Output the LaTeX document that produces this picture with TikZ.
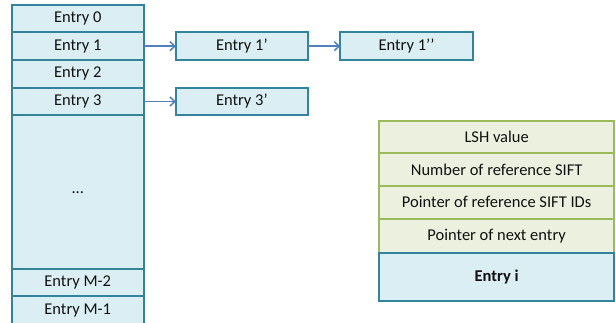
\documentclass[tikz,border=0pt]{standalone}
\usepackage{fontspec}
\setmainfont{Carlito}
\usetikzlibrary{arrows.meta}
\definecolor{bfill}{HTML}{DAEEF3}
\definecolor{bdraw}{HTML}{31849B}
\definecolor{gfill}{HTML}{EBF1DE}
\definecolor{gdraw}{HTML}{9BBB59}
\definecolor{arr}{HTML}{4F81BD}
\definecolor{txt}{HTML}{111111}
\begin{document}
\begin{tikzpicture}[x=1pt,y=-1pt,
  every node/.style={font=\fontsize{16.5}{19}\selectfont, text=txt, inner sep=0pt, outer sep=0pt},
  bluecell/.style={draw=bdraw, fill=bfill, line width=2pt, rectangle, minimum width=131.5pt},
  greencell/.style={draw=gdraw, fill=gfill, line width=2pt, rectangle, minimum width=235.3pt},
  link/.style={draw=arr, line width=1.5pt, -{Straight Barb[length=5pt,width=9pt,line width=1.5pt]}}]
\useasboundingbox (0,0) rectangle (616,322);
\clip (0,0) rectangle (616,322);
% left column
\node[bluecell, minimum height=27.6pt] (e0) at (77.75,18.5) {Entry 0};
\node[bluecell, minimum height=27.7pt] (e1) at (77.75,46.15) {Entry 1};
\node[bluecell, minimum height=27.7pt] (e2) at (77.75,73.85) {Entry 2};
\node[bluecell, minimum height=27.6pt] (e3) at (77.75,101.5) {Entry 3};
\node[bluecell, minimum height=153.7pt] (edots) at (77.75,192.15) {...};
\node[bluecell, minimum height=27.3pt] (em2) at (77.75,282.65) {Entry M-2};
\node[bluecell, minimum height=27.7pt] (em1) at (77.75,310.15) {Entry M-1};
% chained entries
\node[bluecell, minimum width=131.7pt, minimum height=27.7pt] (e1p) at (241.85,46.15) {Entry 1’};
\node[bluecell, minimum width=132.4pt, minimum height=27.7pt] (e1pp) at (406.5,46.15) {Entry 1’’};
\node[bluecell, minimum width=131.7pt, minimum height=27.6pt] (e3p) at (241.85,101.5) {Entry 3’};
\draw[link] (e1.east) -- (e1p.west);
\draw[link] (e1p.east) -- (e1pp.west);
\draw[link] (e3.east) -- (e3p.west);
% entry structure
\node[greencell, minimum height=32.3pt] (lsh) at (496.65,137.15) {LSH value};
\node[greencell, minimum height=32.7pt] (num) at (496.65,169.65) {Number of reference SIFT};
\node[greencell, minimum height=32.7pt] (ptr) at (496.65,202.35) {Pointer of reference SIFT IDs};
\node[greencell, minimum height=34pt] (nxt) at (496.65,235.7) {Pointer of next entry};
\node[bluecell, minimum width=235.3pt, minimum height=48.3pt, font=\fontsize{16.5}{19}\selectfont\bfseries] (ei) at (496.65,276.85) {Entry i};
\end{tikzpicture}
\end{document}
